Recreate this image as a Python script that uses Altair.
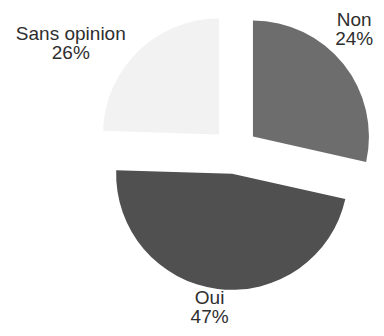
import altair as alt
import pandas as pd

categories = ["Non", "Oui", "Sans opinion"]
# slice shares as drawn in the reference (angles)
slice_shares = [28.5, 47, 24.5]
# percentages as printed on the reference
pct_labels = ["24%", "47%", "26%"]
colors = ["#6d6d6d", "#505050", "#f2f2f2"]

CX, CY = 227, 143      # pie centre in chart pixels
R = 116                # radius
EXPLODE = 23           # explode distance
LINE_H = 19            # label line height
# label placement: (angle nudge in degrees from the slice middle, label radius)
LABEL_NUDGE = {"Non": (-6.8, 170), "Oui": (2, 159), "Sans opinion": (-12.8, 196)}


def pick(idx):
    expr = "0"
    for k, v in LABEL_NUDGE.items():
        expr = f"(datum.cat == '{k}' ? {v[idx]} : {expr})"
    return expr


df = pd.DataFrame({
    "order": list(range(len(categories))),
    "cat": categories,
    "val": slice_shares,
    "pct": pct_labels,
})

base = (
    alt.Chart(df)
    .transform_window(cum="sum(val)", sort=[{"field": "order"}], frame=[None, 0])
    .transform_joinaggregate(total="sum(val)")
    .transform_calculate(
        t1="2*PI*(datum.cum - datum.val)/datum.total",
        t2="2*PI*datum.cum/datum.total",
    )
    .transform_calculate(mid="(datum.t1 + datum.t2)/2")
    .transform_calculate(
        la=f"datum.mid + {pick(0)}*PI/180",
        lr=pick(1),
    )
    .transform_calculate(
        px=f"{CX} + {EXPLODE}*sin(datum.mid)",
        py=f"{CY} - {EXPLODE}*cos(datum.mid)",
        lx=f"{CX} + datum.lr*sin(datum.la)",
        ly=f"{CY} - datum.lr*cos(datum.la) - {LINE_H / 2}",
        label="datum.cat + '\\n' + datum.pct",
    )
)

arcs = base.mark_arc(radius=R).encode(
    theta=alt.Theta("t1:Q", scale=None),
    theta2="t2:Q",
    x=alt.X("px:Q", scale=None),
    y=alt.Y("py:Q", scale=None),
    color=alt.Color("cat:N", scale=alt.Scale(domain=categories, range=colors), legend=None),
)

texts = base.mark_text(
    lineBreak="\n", font="Liberation Sans", fontSize=19, color="#2e2e2e",
    lineHeight=LINE_H, align="center", baseline="middle",
).encode(
    x=alt.X("lx:Q", scale=None),
    y=alt.Y("ly:Q", scale=None),
    text="label:N",
)

chart = (
    alt.layer(arcs, texts)
    .properties(width=368, height=320, autosize=alt.AutoSizeParams(type="none"), padding=0)
    .configure_view(stroke=None)
)

chart.save("out.html", embed_options={"renderer": "svg", "actions": False})
